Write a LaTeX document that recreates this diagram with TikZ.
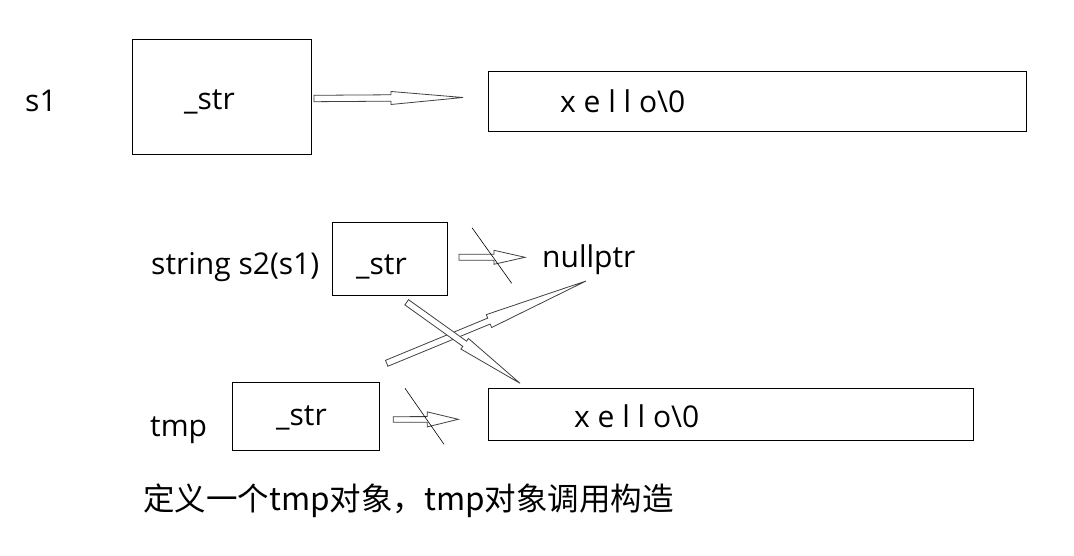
\documentclass[tikz,border=0pt]{standalone}
\usepackage{fontspec}
\setmainfont{Open Sans}
\newfontfamily\cjk{Noto Sans CJK SC}
\usetikzlibrary{calc}
\tikzset{
  box/.style={draw=black, line width=1pt, inner sep=0pt, anchor=north west},
  lbl/.style={inner sep=0pt, anchor=base west, font=\fontsize{30}{36}\selectfont},
  cjklbl/.style={inner sep=0pt, anchor=base west, font=\cjk\fontsize{31.5}{38}\selectfont},
  barrow/.style={draw=black!75, line width=0.8pt, fill=white, line join=miter},
  crossline/.style={draw=black, line width=0.6pt},
}
% from, to, head length, half shaft width, half head width
\newcommand{\blockarrow}[5]{%
  \coordinate (bah) at ($(#2)!#3!(#1)$);
  \draw[barrow] ($(#1)!#4!90:(#2)$) -- ($(bah)!#4!90:(#2)$) -- ($(bah)!#5!90:(#2)$)
     -- (#2) -- ($(bah)!#5!-90:(#2)$) -- ($(bah)!#4!-90:(#2)$) -- ($(#1)!#4!-90:(#2)$) -- cycle;
}
\begin{document}
\begin{tikzpicture}[x=1pt,y=-1pt]
\useasboundingbox (0,0) rectangle (1074,556);

% boxes
\node[box, minimum width=179pt, minimum height=114.8pt] (s1box) at (131.5,39.5) {};
\node[box, minimum width=538pt, minimum height=59.5pt] (buf1) at (487.5,71.5) {};
\node[box, minimum width=115pt, minimum height=72.7pt] (s2box) at (332,222.3) {};
\node[box, minimum width=484.5pt, minimum height=51.7pt] (buf2) at (488.3,388.3) {};
\node[box, minimum width=147.6pt, minimum height=67.7pt] (tmpbox) at (231.7,382.3) {};

% labels
\node[lbl] (s1) at (25,112) {s1};
\node[lbl] (str1) at (184,110) {\_str};
\node[lbl] (x1) at (560,113) {x e l l o\textbackslash0};
\node[lbl] (s2) at (151,274) {string s2(s1)};
\node[lbl] (str2) at (356,274) {\_str};
\node[lbl] (null) at (542,268) {nullptr};
\node[lbl] (tmp) at (150,436) {tmp};
\node[lbl] (str3) at (276,425) {\_str};
\node[lbl] (x2) at (574,427) {x e l l o\textbackslash0};
\node[cjklbl] (note) at (143,510) {定义一个tmp对象，tmp对象调用构造};

% arrow end points
\coordinate (a1s) at (314,98.5);
\coordinate (a1e) at (463,97.5);
\coordinate (a2s) at (459,257.3);
\coordinate (a2e) at (525,257.3);
\coordinate (a3s) at (386.7,363.3);
\coordinate (a3e) at (586,281);
\coordinate (a4s) at (406.7,302.3);
\coordinate (a4e) at (520,383.3);
\coordinate (a5s) at (393.3,419.5);
\coordinate (a5e) at (458.3,419.3);

\blockarrow{a1s}{a1e}{72pt}{3.2pt}{6.5pt}
\blockarrow{a2s}{a2e}{31pt}{3pt}{7pt}
\blockarrow{a3s}{a3e}{105pt}{3.2pt}{7pt}
\blockarrow{a4s}{a4e}{68pt}{3.2pt}{6.5pt}
\blockarrow{a5s}{a5e}{31pt}{2.8pt}{7.5pt}

% cross-out lines
\coordinate (c1s) at (472,227.7);
\coordinate (c1e) at (511.7,283.3);
\coordinate (c2s) at (405,388.3);
\coordinate (c2e) at (444,444.3);
\draw[crossline] (c1s) -- (c1e);
\draw[crossline] (c2s) -- (c2e);
\end{tikzpicture}
\end{document}
